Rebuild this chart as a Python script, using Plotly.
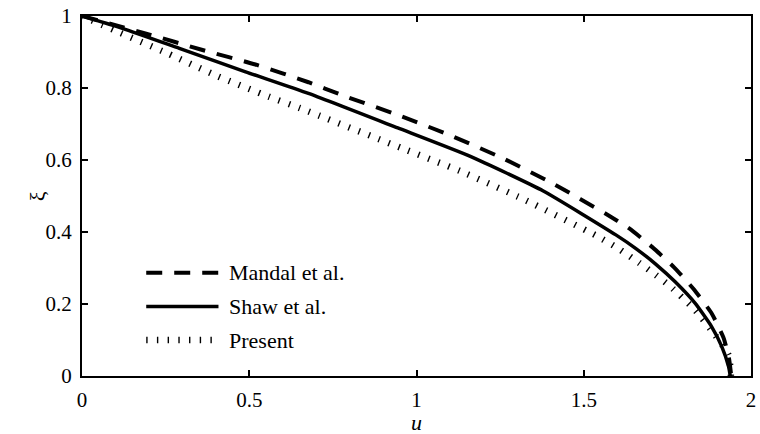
import plotly.graph_objects as go

# Interface position xi versus u for three models
mandal_u = [0, 0.192, 0.355, 0.523, 0.677, 0.775, 0.944, 1.097, 1.255, 1.413,
            1.567, 1.636, 1.705, 1.770, 1.829, 1.883, 1.918, 1.934, 1.941]
mandal_xi = [1, 0.951, 0.907, 0.864, 0.816, 0.781, 0.725, 0.670, 0.606, 0.532,
             0.450, 0.410, 0.358, 0.302, 0.241, 0.173, 0.106, 0.050, 0]

shaw_u = [0, 0.123, 0.291, 0.489, 0.677, 0.944, 1.161, 1.379, 1.596, 1.656,
          1.715, 1.774, 1.834, 1.883, 1.913, 1.933, 1.938]
shaw_xi = [1, 0.965, 0.910, 0.845, 0.785, 0.689, 0.610, 0.514, 0.392, 0.354,
           0.311, 0.261, 0.201, 0.136, 0.081, 0.026, 0]

present_u = [0, 0.098, 0.256, 0.405, 0.558, 0.652, 0.953, 1.131, 1.320, 1.537,
             1.600, 1.666, 1.715, 1.760, 1.834, 1.893, 1.933, 1.940]
present_xi = [1, 0.960, 0.896, 0.833, 0.776, 0.744, 0.634, 0.569, 0.491, 0.390,
              0.356, 0.314, 0.281, 0.248, 0.182, 0.113, 0.058, 0]

x_ticks = [0, 0.5, 1, 1.5, 2]
x_tick_text = ["0", "0.5", "1", "1.5", "2"]
y_ticks = [0, 0.2, 0.4, 0.6, 0.8, 1]
y_tick_text = ["0", "0.2", "0.4", "0.6", "0.8", "1"]

series_names = ["Mandal et al.", "Shaw et al.", "Present"]

FONT = "'Liberation Serif', 'Times New Roman', Times, serif"
DASHED = dict(color="black", width=4, dash="16px,12px")
SOLID = dict(color="black", width=3.5)
DOTTED = dict(color="black", width=6.5, dash="1.4px,9.3px")

fig = go.Figure()
fig.add_trace(go.Scatter(x=mandal_u, y=mandal_xi, mode="lines", name=series_names[0],
                         line=dict(shape="spline", smoothing=0.5, **DASHED)))
fig.add_trace(go.Scatter(x=shaw_u, y=shaw_xi, mode="lines", name=series_names[1],
                         line=dict(shape="spline", smoothing=0.5, **SOLID)))
fig.add_trace(go.Scatter(x=present_u, y=present_xi, mode="lines", name=series_names[2],
                         line=dict(shape="spline", smoothing=0.5, **DOTTED)))

# Legend keys drawn in axis units inside the lower-left corner
legend_rows = [(0.287, DASHED), (0.193, SOLID), (0.100, DOTTED)]
for name, (yy, style) in zip(series_names, legend_rows):
    fig.add_shape(type="line", xref="x", yref="y", x0=0.192, x1=0.408, y0=yy, y1=yy,
                  line=style)
    fig.add_annotation(x=0.434, y=yy, xref="x", yref="y", text=name, showarrow=False,
                       xanchor="left", yanchor="middle",
                       font=dict(family=FONT, size=22, color="black"))

axis_common = dict(showline=True, linecolor="black", linewidth=2, mirror="ticks",
                   ticks="inside", ticklen=6, tickwidth=2, tickcolor="black",
                   showgrid=False, zeroline=False,
                   tickfont=dict(family=FONT, size=21, color="black"))

fig.update_layout(
    width=760, height=434,
    margin=dict(l=82, r=4, t=14, b=58),
    paper_bgcolor="white", plot_bgcolor="white",
    showlegend=False,
    font=dict(family=FONT, color="black"),
    xaxis=dict(range=[0, 2], tickvals=x_ticks, ticktext=x_tick_text,
               ticklabelstandoff=4, **axis_common),
    yaxis=dict(range=[0, 1], tickvals=y_ticks, ticktext=y_tick_text,
               ticklabelstandoff=4, **axis_common),
)

fig.add_annotation(x=0.5, y=-0.13, xref="paper", yref="paper", text="<i>u</i>",
                   showarrow=False, xanchor="center", yanchor="middle",
                   font=dict(family=FONT, size=22, color="black"))
fig.add_annotation(x=-0.067, y=0.5, xref="paper", yref="paper", text="ξ",
                   showarrow=False, textangle=-90, xanchor="center", yanchor="middle",
                   font=dict(family=FONT, size=22, color="black"))

fig.write_html("out.html")
